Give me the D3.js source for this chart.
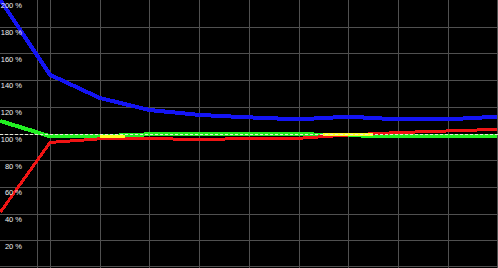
<!DOCTYPE html>
<html lang="en">
<head>
    <meta charset="UTF-8">
    <title>Ratio chart</title>
    <script src="https://d3js.org/d3.v7.min.js"></script>
    <style>
        html, body {
            margin: 0;
            padding: 0;
            background: #000;
            overflow: hidden;
        }
        .tick-label {
            font-family: "Liberation Sans", Arial, sans-serif;
            font-size: 7.5px;
            fill: #f0f0f0;
        }
    </style>
</head>
<body>
    <div id="chart"></div>
    <script>
        // values (percent)
        const steps = [0, 1, 2, 3, 4, 5, 6, 7, 8, 9, 10];
        const blueValues = [200, 144, 126.6, 117.6, 113.9, 112.1, 110.6, 112.6, 110.6, 110.6, 112.6];
        const redValues = [41.0, 93.3, 96.0, 96.4, 95.3, 96.4, 96.4, 98.9, 100.7, 101.9, 103.1];
        const greenValues = [109.4, 97.9, 97.9, 99.4, 99.4, 99.4, 99.5, 98.7, 97.9, 97.9, 97.9];
        // yellow only shows on two short stretches
        const yellowSteps = [2, 2.5, null, 6.5, 7.5];
        const yellowValues = [97.6, 97.6, null, 98.9, 98.9];
        const yTicks = [20, 40, 60, 80, 100, 120, 140, 160, 180, 200];
        const extraLine = [0.74];
        const baseline = 100;

        const width = 498;
        const height = 268;

        const svg = d3.select("#chart")
            .append("svg")
            .attr("width", width)
            .attr("height", height);

        svg.append("rect")
            .attr("width", "100%")
            .attr("height", "100%")
            .attr("fill", "#000");

        const x = d3.scaleLinear().domain([0, 10]).range([0.3, 497.3]);
        const y = d3.scaleLinear().domain([0, 200]).range([267, 0]);
        const px = v => Math.round(v) + 0.5;

        // grid
        const grid = svg.append("g")
            .attr("stroke", "#505050")
            .attr("stroke-width", 1)
            .attr("shape-rendering", "crispEdges");

        grid.selectAll(".h")
            .data([0].concat(yTicks.filter(d => d < 200)))
            .enter()
            .append("line")
            .attr("x1", 0)
            .attr("x2", width)
            .attr("y1", d => Math.min(px(y(d)), 266.5))
            .attr("y2", d => Math.min(px(y(d)), 266.5));

        grid.selectAll(".v")
            .data(steps.slice(1).concat(extraLine))
            .enter()
            .append("line")
            .attr("x1", d => Math.min(px(x(d)), 497.5))
            .attr("x2", d => Math.min(px(x(d)), 497.5))
            .attr("y1", 0)
            .attr("y2", height);

        const line = d3.line()
            .defined(d => d[0] !== null)
            .x(d => x(d[0]))
            .y(d => y(d[1]));

        const series = [
            {name: "green", xs: steps, vals: greenValues, color: "#22f022", w: 4},
            {name: "red", xs: steps, vals: redValues, color: "#f01414", w: 3},
            {name: "yellow", xs: yellowSteps, vals: yellowValues, color: "#ffff22", w: 3},
            {name: "blue", xs: steps, vals: blueValues, color: "#1414f4", w: 4}
        ];

        svg.append("g")
            .selectAll("path")
            .data(series)
            .enter()
            .append("path")
            .attr("d", s => line(s.xs.map((v, i) => [v, s.vals[i]])))
            .attr("fill", "none")
            .attr("stroke", s => s.color)
            .attr("stroke-width", s => s.w)
            .attr("stroke-linejoin", "round")
            .attr("shape-rendering", "crispEdges");

        // 100% reference
        svg.append("line")
            .attr("x1", 0)
            .attr("x2", width)
            .attr("y1", px(y(baseline)))
            .attr("y2", px(y(baseline)))
            .attr("stroke", "#e8e8d8")
            .attr("stroke-width", 1)
            .attr("stroke-dasharray", "3,2")
            .attr("shape-rendering", "crispEdges");

        // y labels
        svg.append("g")
            .selectAll("text")
            .data(yTicks)
            .enter()
            .append("text")
            .attr("class", "tick-label")
            .attr("x", 22)
            .attr("y", d => y(d) + 8.3)
            .attr("text-anchor", "end")
            .text(d => d + " %");
    </script>
</body>
</html>
